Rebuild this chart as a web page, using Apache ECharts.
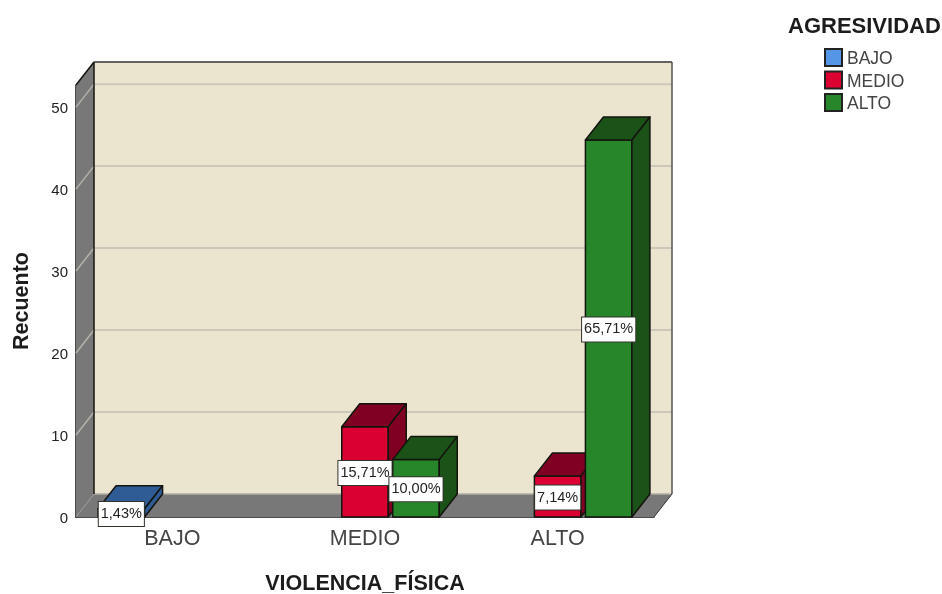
<!DOCTYPE html>
<html>
<head>
<meta charset="utf-8">
<style>html,body{margin:0;padding:0;background:#fff}#c{width:942px;height:594px}</style>
<script src="https://cdn.jsdelivr.net/npm/echarts@6/dist/echarts.min.js"></script>
</head>
<body>
<div id="c"></div>
<script>
const categories = ['BAJO', 'MEDIO', 'ALTO'];
const bajoValues = [1, 0, 0];
const medioValues = [0, 11, 5];
const altoValues = [0, 7, 46];
const bajoLabels = ['1,43%', '', ''];
const medioLabels = ['', '15,71%', '7,14%'];
const altoLabels = ['', '10,00%', '65,71%'];
const valueTicks = [0, 10, 20, 30, 40, 50];

const DX = 18, DY = -23, SLOT = 51 / 192.67, BAR = 46.5;
const EDGE = '#14140f';
const FONT = '"Liberation Sans", Arial, sans-serif';

function poly(points, fill, stroke, lw, z2) {
  return { type: 'polygon', z2: z2 || 0, shape: { points },
    style: { fill, stroke: stroke || null, lineWidth: lw === undefined ? 1.5 : lw, lineJoin: 'round' } };
}
function line(x1, y1, x2, y2, stroke, lw) {
  return { type: 'line', shape: { x1, y1, x2, y2 }, style: { stroke, lineWidth: lw } };
}

function renderWalls(params, api) {
  const cs = params.coordSys;
  const x0 = cs.x, x1 = cs.x + cs.width;
  const yb = api.coord([0, 0])[1], yt = cs.y;
  const kids = [
    poly([[x0, yb], [x0 + DX, yb + DY], [x0 + DX, yt + DY], [x0, yt]], '#787878', null, 0),
    poly([[x0, yb], [x1, yb], [x1 + DX, yb + DY], [x0 + DX, yb + DY]], '#787878', null, 0),
    poly([[x0 + DX, yb + DY], [x1 + DX, yb + DY], [x1 + DX, yt + DY], [x0 + DX, yt + DY]], '#ebe5cf', null, 0)
  ];
  valueTicks.forEach(function (v) {
    const y = api.coord([0, v])[1];
    if (v > 0) {
      kids.push(line(x0, y, x0 + DX, y + DY, '#b4b2aa', 1.5));
      kids.push(line(x0 + DX, y + DY, x1 + DX, y + DY, '#cbc8ba', 2));
    } else {
      kids.push(line(x0, y, x0 + DX, y + DY, '#9a9a96', 1));
      kids.push(line(x0 + DX, y + DY, x1 + DX, y + DY, '#b0aea4', 1.5));
    }
  });
  kids.push(line(x0 + DX, yb + DY, x0 + DX, yt + DY, EDGE, 1.5));
  kids.push(line(x0, yt, x0 + DX, yt + DY, EDGE, 1.5));
  kids.push(line(x0 + DX, yt + DY, x1 + DX, yt + DY, '#333', 1.5));
  kids.push(line(x1 + DX, yt + DY, x1 + DX, yb + DY, '#555', 1.5));
  kids.push(line(x1, yb, x1 + DX, yb + DY, '#333', 1));
  return { type: 'group', children: kids };
}

function bar3d(slotIndex, front, top, side, labels) {
  return function (params, api) {
    const val = api.value(1);
    if (!val) return null;
    const cat = api.value(0);
    const band = api.size([1, 0])[0];
    const center = api.coord([cat, 0])[0] + (slotIndex - 1) * SLOT * band;
    const xl = center - BAR / 2, xr = center + BAR / 2;
    const y0 = api.coord([cat, 0])[1], y1 = api.coord([cat, val])[1];
    return { type: 'group', children: [
      poly([[xl, y0], [xr, y0], [xr, y1], [xl, y1]], front, EDGE),
      poly([[xl, y1], [xr, y1], [xr + DX, y1 + DY], [xl + DX, y1 + DY]], top, EDGE),
      poly([[xr, y0], [xr + DX, y0 + DY], [xr + DX, y1 + DY], [xr, y1]], side, EDGE),
      { type: 'text', z2: 50, x: center, y: (y0 + y1) / 2 + 1, style: {
        text: labels[cat], font: '14.5px ' + FONT, fill: '#222', align: 'center', verticalAlign: 'middle',
        backgroundColor: '#fff', borderColor: '#33332c', borderWidth: 1, padding: [5, 2, 4, 2] } }
    ] };
  };
}
function rows(values) { return values.map(function (v, i) { return [i, v]; }); }

const chart = echarts.init(document.getElementById('c'));
chart.setOption({
  animation: false,
  title: { text: 'AGRESIVIDAD', left: 783, top: 11,
    textStyle: { fontFamily: FONT, fontSize: 22, fontWeight: 'bold', color: '#1c1c1c' } },
  legend: { data: ['BAJO', 'MEDIO', 'ALTO'], orient: 'vertical', left: 819, top: 43,
    itemWidth: 17, itemHeight: 17, itemGap: 2, icon: 'rect',
    formatter: '{a|{name}}',
    textStyle: { rich: { a: { fontFamily: FONT, fontSize: 17.5, color: '#444', padding: [4, 0, 0, 0] } } } },
  grid: { left: 76, right: 288, top: 85, bottom: 77, outerBoundsMode: 'none' },
  xAxis: { type: 'category', data: categories, boundaryGap: true,
    axisTick: { show: false },
    axisLine: { lineStyle: { color: '#111', width: 1.5 } },
    axisLabel: { fontFamily: FONT, fontSize: 21.5, color: '#444', margin: 11 },
    name: 'VIOLENCIA_FÍSICA', nameLocation: 'middle', nameGap: 56,
    nameTextStyle: { fontFamily: FONT, fontSize: 21.5, fontWeight: 'bold', color: '#1c1c1c' } },
  yAxis: { type: 'value', min: 0, max: 52.7, interval: 10,
    splitLine: { show: false }, axisTick: { show: false },
    axisLine: { show: true, lineStyle: { color: '#111', width: 1.5 } },
    axisLabel: { margin: 8, showMaxLabel: false, formatter: '{a|{value}}',
      rich: { a: { fontFamily: FONT, fontSize: 15, color: '#222', padding: [4, 0, 0, 0] } } },
    name: 'Recuento', nameLocation: 'middle', nameGap: 43,
    nameTextStyle: { fontFamily: FONT, fontSize: 21.5, fontWeight: 'bold', color: '#1c1c1c' } },
  series: [
    { type: 'custom', name: 'walls', silent: true, z: 1, data: [[0, 0]], renderItem: renderWalls },
    { type: 'custom', name: 'BAJO', z: 2, data: rows(bajoValues), encode: { x: 0, y: 1 },
      itemStyle: { color: '#5596e6', borderColor: '#222', borderWidth: 1.5 },
      renderItem: bar3d(0, '#5596e6', '#2f5c94', '#2f5c94', bajoLabels) },
    { type: 'custom', name: 'MEDIO', z: 2, data: rows(medioValues), encode: { x: 0, y: 1 },
      itemStyle: { color: '#db0032', borderColor: '#222', borderWidth: 1.5 },
      renderItem: bar3d(1, '#db0032', '#7f0020', '#7f0020', medioLabels) },
    { type: 'custom', name: 'ALTO', z: 2, data: rows(altoValues), encode: { x: 0, y: 1 },
      itemStyle: { color: '#27862a', borderColor: '#222', borderWidth: 1.5 },
      renderItem: bar3d(2, '#27862a', '#1a5218', '#1a5218', altoLabels) }
  ]
});
</script>
</body>
</html>
